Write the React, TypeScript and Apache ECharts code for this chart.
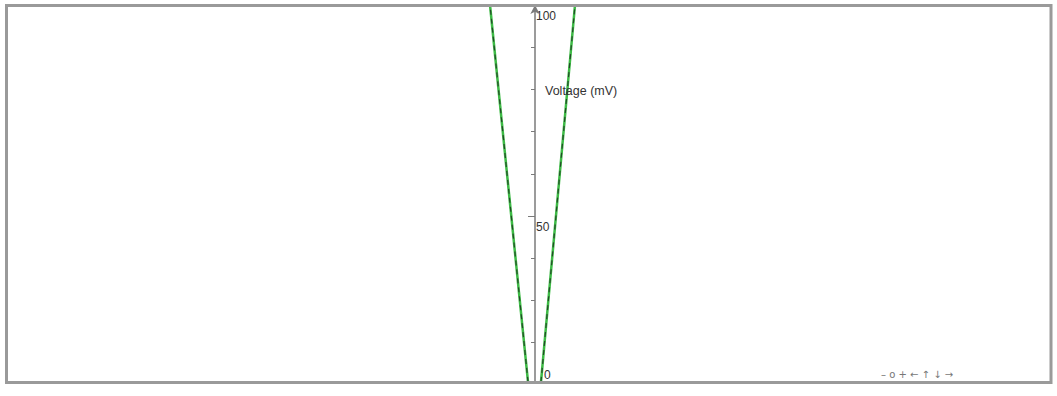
import React, { useEffect, useRef } from "react";
import * as echarts from "echarts";

// Current axis (hidden) range and the two branches of the V-shaped trace
const currentRange = [-52.8, 51.4];
const leftBranchCurrent = [-0.7, -4.5];
const leftBranchVoltage = [10.7, 100];
const rightBranchCurrent = [0.6, 4.0];
const rightBranchVoltage = [10.7, 100];

// Voltage axis
const voltageMin = 0;
const voltageMax = 100;
const voltageMajorStep = 50;
const voltageMinorSplits = 5;
const voltageAxisName = "Voltage (mV)";
const originLabel = "0";
const navigationText = "\u2013 o + \u2190 \u2191 \u2193 \u2192";

const zip = (xs: number[], ys: number[]) => xs.map((x, i) => [x, ys[i]]);

export default function App() {
  const ref = useRef<HTMLDivElement>(null);
  useEffect(() => {
    if (!ref.current) return;
    const chart = echarts.init(ref.current, undefined, { renderer: "svg" });
    const left = zip(leftBranchCurrent, leftBranchVoltage);
    const right = zip(rightBranchCurrent, rightBranchVoltage);
    const gridLeft = 7;
    const gridRight = 8;
    const plotWidth = 1057 - gridLeft - gridRight;
    const zeroOffset =
      ((0 - currentRange[0]) / (currentRange[1] - currentRange[0])) * plotWidth;
    const solid = {
      type: "line",
      showSymbol: false,
      lineStyle: { color: "#3dbb45", width: 2.5 },
      z: 2,
    };
    const dashed = {
      type: "line",
      showSymbol: false,
      lineStyle: { color: "#244a28", width: 1.2, type: [5, 4] },
      z: 3,
    };
    chart.setOption({
      animation: false,
      backgroundColor: "#ffffff",
      grid: {
        left: gridLeft,
        right: gridRight,
        top: 5,
        bottom: -31,
        outerBoundsMode: "none",
        containLabel: false,
      },
      xAxis: {
        type: "value",
        min: currentRange[0],
        max: currentRange[1],
        axisLine: { show: false },
        axisTick: { show: false },
        axisLabel: { show: false },
        splitLine: { show: false },
      },
      yAxis: {
        type: "value",
        position: "left",
        offset: -zeroOffset,
        min: voltageMin,
        max: voltageMax,
        interval: voltageMajorStep,
        axisLine: {
          show: true,
          onZero: false,
          symbol: ["none", "arrow"],
          symbolSize: [7, 9],
          lineStyle: { color: "#7a7a7a", width: 1.5 },
        },
        axisTick: { show: true, length: 7, lineStyle: { color: "#7a7a7a", width: 1 } },
        minorTick: {
          show: true,
          splitNumber: voltageMinorSplits,
          length: 4,
          lineStyle: { color: "#7a7a7a", width: 1 },
        },
        axisLabel: {
          inside: true,
          margin: 1,
          color: "#333",
          fontSize: 12,
          fontFamily: "Liberation Sans, Arial, sans-serif",
          verticalAlign: "top",
          padding: [5, 0, 0, 0],
          formatter: (v: number) => (v === voltageMin ? "" : String(v)),
        },
        splitLine: { show: false },
      },
      series: [
        { ...solid, data: left },
        { ...dashed, data: left },
        { ...solid, data: right },
        { ...dashed, data: right },
      ],
      graphic: [
        {
          type: "rect",
          shape: { x: 0, y: 384, width: 1057, height: 12 },
          style: { fill: "#ffffff" },
          z: 9,
        },
        {
          type: "rect",
          shape: { x: 6.5, y: 5.5, width: 1044.5, height: 377 },
          style: { fill: "none", stroke: "#9a9a9a", lineWidth: 3 },
          z: 10,
        },
        {
          type: "text",
          x: 545,
          y: 84,
          style: {
            text: voltageAxisName,
            fill: "#333",
            fontSize: 12.5,
            fontFamily: "Liberation Sans, Arial, sans-serif",
          },
          z: 10,
        },
        {
          type: "text",
          x: 544,
          y: 369,
          style: {
            text: originLabel,
            fill: "#333",
            fontSize: 12,
            fontFamily: "Liberation Sans, Arial, sans-serif",
          },
          z: 10,
        },
        {
          type: "text",
          x: 881,
          y: 369,
          style: {
            text: navigationText,
            fill: "#777",
            fontSize: 10,
            fontFamily: "DejaVu Sans, sans-serif",
          },
          z: 10,
        },
      ],
    });
    return () => chart.dispose();
  }, []);
  return (
    <div
      ref={ref}
      style={{ position: "fixed", left: 0, top: 0, width: 1057, height: 396 }}
    />
  );
}
